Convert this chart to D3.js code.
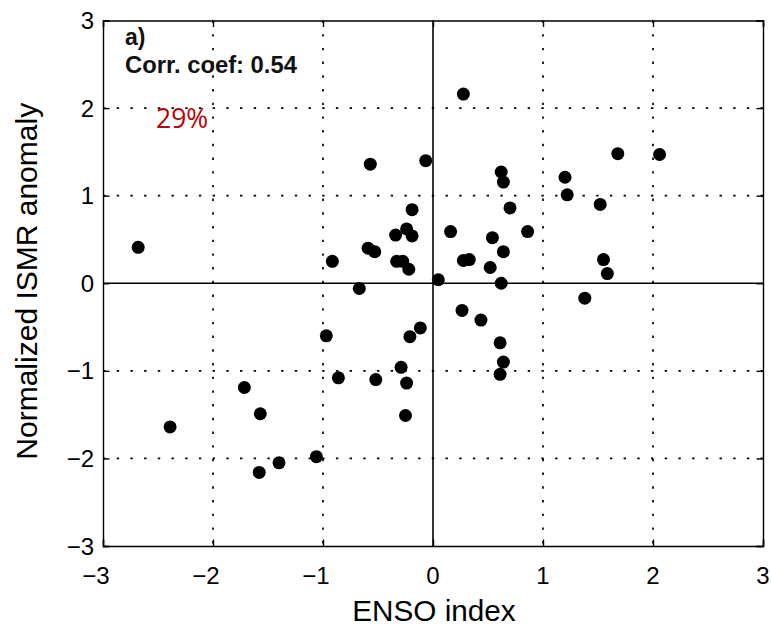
<!DOCTYPE html>
<html>
<head>
<meta charset="utf-8">
<script src="https://cdn.jsdelivr.net/npm/d3@7"></script>
<style>
  html, body { margin: 0; padding: 0; background: #fff; }
  svg { display: block; }
</style>
</head>
<body>
<svg id="chart" width="771" height="628"></svg>
<script>
// ENSO index vs. normalized ISMR anomaly, one point per year
const ensoIndex = [
  -2.68, -2.39, -1.715, -1.57, -1.58, -1.40, -1.06, -0.97, -0.915, -0.86,
  -0.67, -0.59, -0.53, -0.57, -0.52, -0.34, -0.33, -0.275, -0.24, -0.19,
  -0.22, -0.19, -0.29, -0.24, -0.25, -0.21, -0.115, -0.066, 0.048, 0.16,
  0.264, 0.276, 0.276, 0.33, 0.436, 0.52, 0.54, 0.61, 0.64, 0.61,
  0.62, 0.64, 0.62, 0.64, 0.70, 0.86, 1.20, 1.22, 1.38, 1.52,
  1.55, 1.585, 1.68, 2.06
];
const ismrAnomaly = [
  0.41, -1.64, -1.19, -1.49, -2.16, -2.05, -1.98, -0.60, 0.25, -1.08,
  -0.06, 0.40, 0.36, 1.36, -1.10, 0.55, 0.25, 0.25, 0.62, 0.54,
  0.16, 0.84, -0.96, -1.14, -1.51, -0.61, -0.51, 1.40, 0.04, 0.59,
  -0.31, 2.16, 0.26, 0.27, -0.42, 0.18, 0.52, -0.68, -0.90, -1.04,
  0.00, 0.36, 1.27, 1.155, 0.86, 0.59, 1.21, 1.01, -0.17, 0.90,
  0.27, 0.11, 1.48, 1.47
];
const xTicks = [-3, -2, -1, 0, 1, 2, 3];
const yTicks = [-3, -2, -1, 0, 1, 2, 3];
const panelLabel = "a)";
const corrLabel = "Corr. coef: 0.54";
const shareLabel = "29%";
const xTitle = "ENSO index";
const yTitle = "Normalized ISMR anomaly";

const svg = d3.select("#chart");
const plotLeft = 103, plotRight = 763, plotTop = 20.5, plotBottom = 546;

const x = d3.scaleLinear().domain([-3, 3]).range([plotLeft, plotRight]);
const y = d3.scaleLinear().domain([-3, 3]).range([plotBottom, plotTop]);

const fmt = v => (v < 0 ? "\u2212" : "") + Math.abs(v);
const tickLen = 6.5;

// dotted grid at the inner integer values
const inner = t => t > -3 && t < 3 && t !== 0;
const grid = svg.append("g")
  .attr("stroke", "#000").attr("stroke-width", 1.7)
  .attr("stroke-dasharray", "2.4 11.3").attr("fill", "none");
grid.selectAll("line.v").data(xTicks.filter(inner)).join("line")
  .attr("class", "v")
  .attr("x1", d => x(d)).attr("x2", d => x(d))
  .attr("y1", plotTop).attr("y2", plotBottom);
grid.selectAll("line.h").data(yTicks.filter(inner)).join("line")
  .attr("class", "h")
  .attr("x1", plotLeft).attr("x2", plotRight)
  .attr("y1", d => y(d)).attr("y2", d => y(d));

// solid zero lines
svg.append("line")
  .attr("x1", x(0)).attr("x2", x(0)).attr("y1", plotTop).attr("y2", plotBottom)
  .attr("stroke", "#000").attr("stroke-width", 1.6);
svg.append("line")
  .attr("x1", plotLeft).attr("x2", plotRight).attr("y1", y(0)).attr("y2", y(0))
  .attr("stroke", "#000").attr("stroke-width", 1.6);

// axes: ticks pointing inward on all four sides
const font = "Liberation Sans, Arial, Helvetica, sans-serif";
const axB = svg.append("g").attr("transform", `translate(0,${plotBottom})`)
  .call(d3.axisBottom(x).tickValues(xTicks).tickSize(-tickLen).tickFormat(""));
const axT = svg.append("g").attr("transform", `translate(0,${plotTop})`)
  .call(d3.axisTop(x).tickValues(xTicks).tickSize(-tickLen).tickFormat(""));
const axL = svg.append("g").attr("transform", `translate(${plotLeft},0)`)
  .call(d3.axisLeft(y).tickValues(yTicks).tickSize(-tickLen).tickFormat(""));
const axR = svg.append("g").attr("transform", `translate(${plotRight},0)`)
  .call(d3.axisRight(y).tickValues(yTicks).tickSize(-tickLen).tickFormat(""));
[axB, axT, axL, axR].forEach(g => {
  g.selectAll("path").attr("stroke", "#000").attr("stroke-width", 1.4);
  g.selectAll("line").attr("stroke", "#000").attr("stroke-width", 1.4);
});

// tick labels; the digit sits centred on its tick, a minus sign hangs left
const digitHalf = 6.7;
svg.append("g").selectAll("text").data(xTicks).join("text")
  .attr("x", d => x(d) + digitHalf).attr("y", 583.5)
  .attr("text-anchor", "end")
  .attr("font-family", font).attr("font-size", 24).attr("fill", "#000")
  .text(fmt);
svg.append("g").selectAll("text").data(yTicks).join("text")
  .attr("x", 94).attr("y", d => y(d) + 8.6)
  .attr("text-anchor", "end")
  .attr("font-family", font).attr("font-size", 24).attr("fill", "#000")
  .text(fmt);

// axis titles
svg.append("text")
  .attr("x", 434).attr("y", 620.5).attr("text-anchor", "middle")
  .attr("font-family", font).attr("font-size", 29.7).attr("fill", "#000")
  .text(xTitle);
svg.append("text")
  .attr("transform", `translate(37,${(plotTop + plotBottom) / 2 - 2}) rotate(-90)`)
  .attr("text-anchor", "middle")
  .attr("font-family", font).attr("font-size", 30).attr("fill", "#000")
  .text(yTitle);

// scatter points
svg.append("g").selectAll("circle").data(ensoIndex).join("circle")
  .attr("cx", d => x(d))
  .attr("cy", (d, i) => y(ismrAnomaly[i]))
  .attr("r", 6.5)
  .attr("fill", "#000");

// annotations
svg.append("text")
  .attr("x", 125).attr("y", 45).attr("font-family", font)
  .attr("font-weight", "bold").attr("font-size", 23).attr("fill", "#111")
  .text(panelLabel);
svg.append("text")
  .attr("x", 125).attr("y", 72.5).attr("font-family", font)
  .attr("font-weight", "bold").attr("font-size", 23.8).attr("fill", "#111")
  .text(corrLabel);
svg.append("text")
  .attr("x", 156).attr("y", 128.3).attr("font-family", "Open Sans, sans-serif")
  .attr("font-size", 26.5).attr("fill", "#c00000")
  .text(shareLabel);
</script>
</body>
</html>
